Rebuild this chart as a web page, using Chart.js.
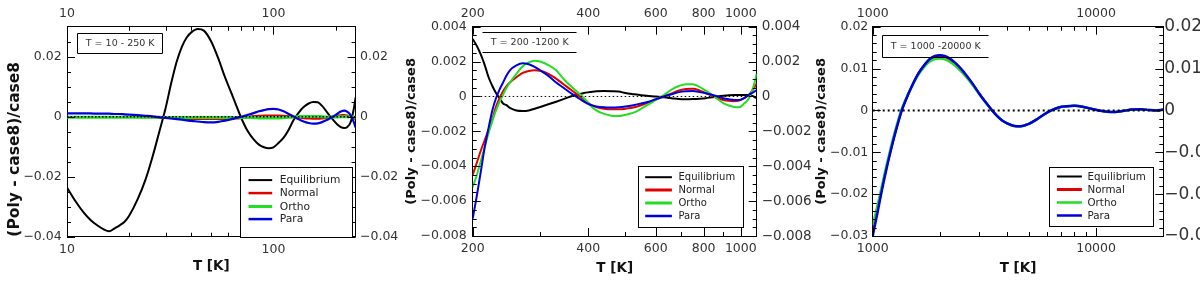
<!DOCTYPE html>
<html>
<head>
<meta charset="utf-8">
<script src="https://cdn.jsdelivr.net/npm/chart.js@4.4.1/dist/chart.umd.min.js"></script>
<style>
html,body{margin:0;padding:0;background:#fff;width:1200px;height:284px;overflow:hidden;position:relative;}
canvas{position:absolute;top:0;}
</style>
</head>
<body>
<canvas id="c1" width="400" height="284" style="left:0px;width:400px;height:284px"></canvas>
<canvas id="c2" width="420" height="284" style="left:400px;width:420px;height:284px"></canvas>
<canvas id="c3" width="420" height="284" style="left:800px;width:420px;height:284px"></canvas>
<script>
// ---------------- DATA ----------------
const seriesNames = ['Equilibrium', 'Normal', 'Ortho', 'Para'];

// Panel 1 : T = 10 - 250 K
const p1XLimits = [10, 250];
const p1YLimits = [-0.04, 0.03];
const p1XTicks = [10, 100];
const p1XMinorTicks = [20, 30, 40, 50, 60, 70, 80, 90, 200];
const p1YTicks = [-0.04, -0.02, 0, 0.02];
const p1YMinorTicks = [-0.035, -0.03, -0.025, -0.015, -0.01, -0.005, 0.005, 0.01, 0.015, 0.025];
const p1T = [10,11,12,13,14,15,16,17,18,19,20,22,24,26,28,30,32,34,36,38,40,43,46,50,54,58,62,66,70,75,80,85,90,95,100,106,112,118,125,132,140,148,156,164,172,180,188,196,204,212,220,228,236,244,250];
const p1Equilibrium = [-0.0236,-0.0282,-0.0318,-0.0344,-0.0362,-0.0375,-0.0382,-0.0372,-0.0362,-0.0350,-0.0330,
  -0.0275,-0.0210,-0.0132,-0.0050,0.0027,0.0113,0.0184,0.0233,0.0264,0.0281,
  0.0292,0.0287,0.0250,0.0195,0.0135,0.0085,0.0038,-0.0006,
  -0.0048,-0.0075,-0.0093,-0.0102,-0.0105,-0.0102,
  -0.0087,-0.0070,-0.0046,-0.0012,0.0012,0.0032,0.0044,0.0049,0.0048,0.0036,0.0019,0.0002,-0.0013,-0.0026,-0.0035,-0.0038,-0.0034,-0.0020,0.0020,0.0064];
const p1Normal = [-0.0001,-0.0001,-0.0001,-0.0001,-0.0001,-0.0001,-0.0001,-0.0001,-0.0001,-0.0001,-0.0001,
  -0.0001,-0.0002,-0.0002,-0.0003,-0.0004,-0.0005,-0.0006,-0.0007,-0.0007,-0.0008,
  -0.0008,-0.0008,-0.0008,-0.0008,-0.0008,-0.0007,-0.0006,-0.0004,
  -0.0001,0.0002,0.0003,0.0004,0.0004,0.0004,
  0.0004,0.0003,0.0002,0.0000,-0.0003,-0.0005,-0.0006,-0.0007,-0.0007,-0.0006,-0.0004,-0.0001,0.0002,0.0004,0.0005,0.0006,0.0004,0.0000,-0.0005,-0.0008];
const p1Ortho = [-0.0002,-0.0002,-0.0002,-0.0002,-0.0002,-0.0002,-0.0002,-0.0002,-0.0002,-0.0002,-0.0002,
  -0.0002,-0.0002,-0.0002,-0.0002,-0.0003,-0.0003,-0.0003,-0.0003,-0.0003,-0.0003,
  -0.0003,-0.0003,-0.0003,-0.0003,-0.0003,-0.0003,-0.0003,-0.0003,
  -0.0003,-0.0003,-0.0004,-0.0004,-0.0004,-0.0004,
  -0.0004,-0.0003,-0.0002,-0.0001,0.0000,0.0001,0.0001,0.0001,0.0001,0.0000,-0.0001,-0.0001,-0.0001,-0.0001,0.0000,0.0000,0.0000,0.0000,-0.0001,-0.0002];
const p1Para = [0.0011,0.0011,0.0011,0.0011,0.0010,0.0010,0.0010,0.0009,0.0009,0.0008,0.0007,
  0.0005,0.0003,0.0001,-0.0002,-0.0004,-0.0006,-0.0008,-0.0010,-0.0012,-0.0014,
  -0.0016,-0.0018,-0.0019,-0.0017,-0.0013,-0.0009,-0.0004,0.0000,
  0.0006,0.0012,0.0018,0.0022,0.0025,0.0026,
  0.0024,0.0018,0.0010,0.0001,-0.0008,-0.0016,-0.0021,-0.0023,-0.0022,-0.0018,-0.0012,-0.0005,0.0002,0.0010,0.0017,0.0020,0.0016,0.0006,-0.0015,-0.0036];

// Panel 2 : T = 200 - 1200 K
const p2XLimits = [200, 1100];
const p2YLimits = [-0.008, 0.004];
const p2XTicks = [200, 400, 600, 800, 1000];
const p2XMinorTicks = [300, 500, 700, 900];
const p2YTicks = [-0.008, -0.006, -0.004, -0.002, 0, 0.002, 0.004];
const p2YMinorTicks = [-0.0075,-0.007,-0.0065,-0.0055,-0.005,-0.0045,-0.0035,-0.003,-0.0025,-0.0015,-0.001,-0.0005,0.0005,0.001,0.0015,0.0025,0.003,0.0035];
const p2T = [200,205,210,215,220,225,230,235,240,245,250,260,270,280,290,300,315,330,345,360,375,390,405,420,440,460,480,500,525,550,575,600,630,660,690,720,750,780,810,840,870,900,930,960,990,1020,1050,1080,1100];
const p2Equilibrium = [0.0033,0.0029,0.0024,0.0018,0.0011,0.0006,0.0002,-0.0001,-0.0004,-0.0005,-0.00065,
  -0.0008,-0.00083,-0.0008,-0.0007,-0.0006,
  -0.00045,-0.0003,-0.00015,0.0,0.0001,0.0002,0.00025,0.0003,
  0.00031,0.0003,0.00028,0.0002,
  0.00013,0.00007,0.00003,0.0,
  -0.00005,-0.0001,-0.00015,-0.00016,-0.00015,-0.00013,-0.0001,-0.00005,0.0,0.00004,0.00007,0.00008,0.00008,0.00008,0.00008,0.0,
  -0.0001];
const p2Normal = [-0.0045,-0.0038,-0.0031,-0.0025,-0.0019,-0.0013,-0.0006,-0.0001,0.0003,0.0006,0.0008,
  0.0011,0.00135,0.00146,0.0015,0.00147,
  0.0013,0.00102,0.0007,0.0004,0.0001,-0.00018,-0.00045,-0.0006,
  -0.0007,-0.00074,-0.00074,-0.0007,
  -0.00063,-0.0005,-0.00033,-0.00018,
  0.0,0.00018,0.00034,0.00043,0.00044,0.00035,0.0002,0.00005,-0.0001,-0.0002,-0.00025,-0.00027,-0.00024,-0.0001,0.0001,0.00045,
  0.00075];
const p2Ortho = [-0.0052,-0.0045,-0.0037,-0.0029,-0.0021,-0.0014,-0.0008,-0.0003,0.0001,0.0005,0.0008,
  0.0013,0.00173,0.00195,0.00205,0.002,
  0.0018,0.0015,0.001,0.0006,0.00025,-0.0001,-0.0005,-0.0008,
  -0.001,-0.0011,-0.00112,-0.00105,
  -0.00093,-0.0007,-0.00045,-0.0002,
  0.00008,0.0004,0.0006,0.0007,0.0007,0.00055,0.00033,0.0001,-0.00015,-0.00038,-0.00052,-0.0006,-0.00062,-0.0004,-0.0001,0.0006,
  0.0013];
const p2Para = [-0.0070,-0.0057,-0.0043,-0.0029,-0.0018,-0.0008,-0.0001,0.0004,0.0008,0.0012,0.0015,
  0.00178,0.0019,0.00185,0.0017,0.0015,
  0.00118,0.0008,0.0005,0.0002,-0.00005,-0.0003,-0.00048,-0.00057,
  -0.00062,-0.00063,-0.00062,-0.00058,
  -0.0005,-0.0004,-0.0003,-0.00016,
  0.0,0.00013,0.00025,0.0003,0.00031,0.00026,0.00018,0.0001,0.0,-0.0001,-0.00016,-0.0002,-0.0002,-0.0001,0.0001,0.00025,
  0.00037];

// Panel 3 : T = 1000 - 20000 K
const p3XLimits = [1000, 20000];
const p3YLimits = [-0.03, 0.02];
const p3XTicks = [1000, 10000];
const p3XMinorTicks = [2000, 3000, 4000, 5000, 6000, 7000, 8000, 9000];
const p3YTicks = [-0.03, -0.02, -0.01, 0, 0.01, 0.02];
const p3YMinorTicks = [-0.028,-0.026,-0.024,-0.022,-0.018,-0.016,-0.014,-0.012,-0.008,-0.006,-0.004,-0.002,0.002,0.004,0.006,0.008,0.012,0.014,0.016,0.018];
const p3T = [1000,1050,1100,1150,1200,1250,1300,1350,1400,1500,1600,1700,1800,1900,2000,2100,2200,2350,2500,2650,2800,3000,3200,3400,3600,3800,4000,4300,4600,5000,5400,5800,6300,6800,7400,8000,8700,9500,10300,11200,12200,13300,14500,15800,17200,18600,20000];
const p3Equilibrium = [-0.0292,-0.0240,-0.0186,-0.0139,-0.0098,-0.0061,-0.0028,0.0001,0.0023,
  0.0059,0.0088,0.0108,0.0122,0.0129,0.0131,0.0129,0.0124,
  0.0112,0.0097,0.0080,0.0063,
  0.0040,0.0020,0.0002,-0.0013,-0.0024,-0.0031,
  -0.0037,-0.0038,
  -0.0032,-0.0022,-0.0011,
  0.0000,0.0007,0.0010,0.0011,0.0009,0.0004,
  0.0000,-0.0003,-0.0004,-0.0001,0.0002,0.0003,0.0001,0.0000,0.0002];
const p3Normal = [-0.0288,-0.0237,-0.0184,-0.0138,-0.0097,-0.0060,-0.0027,0.0001,0.0023,
  0.0058,0.0087,0.0106,0.0120,0.0127,0.0129,0.0127,0.0122,
  0.0110,0.0096,0.0079,0.0062,
  0.0040,0.0020,0.0002,-0.0013,-0.0024,-0.0031,
  -0.0037,-0.0038,
  -0.0032,-0.0022,-0.0011,
  0.0000,0.0007,0.0010,0.0011,0.0009,0.0004,
  0.0000,-0.0003,-0.0004,-0.0001,0.0002,0.0003,0.0001,0.0000,0.0002];
const p3Ortho = [-0.0275,-0.0228,-0.0180,-0.0134,-0.0093,-0.0056,-0.0024,0.0004,0.0025,
  0.0058,0.0085,0.0104,0.0117,0.0123,0.0124,0.0122,0.0117,
  0.0106,0.0092,0.0077,0.0061,
  0.0039,0.0019,0.0002,-0.0013,-0.0024,-0.0031,
  -0.0037,-0.0038,
  -0.0032,-0.0022,-0.0011,
  0.0000,0.0007,0.0010,0.0011,0.0009,0.0004,
  0.0000,-0.0003,-0.0004,-0.0001,0.0002,0.0003,0.0001,0.0000,0.0002];
const p3Para = [-0.0300,-0.0245,-0.0190,-0.0142,-0.0100,-0.0062,-0.0029,0.0000,0.0022,
  0.0059,0.0088,0.0108,0.0123,0.0130,0.0132,0.0130,0.0125,
  0.0113,0.0098,0.0081,0.0064,
  0.0040,0.0020,0.0002,-0.0013,-0.0024,-0.0031,
  -0.0037,-0.0038,
  -0.0032,-0.0022,-0.0011,
  0.0000,0.0007,0.0010,0.0011,0.0009,0.0004,
  0.0000,-0.0003,-0.0004,-0.0001,0.0002,0.0003,0.0001,0.0000,0.0002];

// ---------------- STYLE ----------------
const seriesColors = ['#000000', '#e00000', '#22dd22', '#0000dd'];
const FONT = 'DejaVu Sans';
const TICK_COLOR = '#333333';

function fmt(v) { return v === 0 ? '0' : String(v).replace('-', '\u2212'); }

function makeDecor(st) {
  return {
    id: 'decor',
    afterDraw(chart) {
      const ctx = chart.ctx, a = chart.chartArea;
      const xs = chart.scales.x, ys = chart.scales.y;
      ctx.save();
      ctx.strokeStyle = '#000';
      ctx.lineWidth = 1;
      const line = (x1, y1, x2, y2) => { ctx.beginPath(); ctx.moveTo(x1, y1); ctx.lineTo(x2, y2); ctx.stroke(); };
      const xt = (vals, len) => vals.forEach(v => {
        const p = Math.round(xs.getPixelForValue(v)) + 0.5;
        line(p, a.bottom, p, a.bottom - len);
        line(p, a.top, p, a.top + len);
      });
      const yt = (vals, len) => vals.forEach(v => {
        const p = Math.round(ys.getPixelForValue(v)) + 0.5;
        line(a.left, p, a.left + len, p);
        line(a.right, p, a.right - len, p);
      });
      xt(st.xMajor, 8); xt(st.xMinor, 4);
      yt(st.yMajor, 8); yt(st.yMinor, 4);

      // annotation box
      const n = st.note;
      const nx0 = Math.round(a.left + n.dx0) + 0.5, nx1 = Math.round(a.left + n.dx1) + 0.5;
      const ny0 = Math.round(a.top + n.dy0) + 0.5, ny1 = Math.round(a.top + n.dy1) + 0.5;
      if (n.sides.includes('t')) line(nx0, ny0, nx1, ny0);
      if (n.sides.includes('b')) line(nx0, ny1, nx1, ny1);
      if (n.sides.includes('l')) line(nx0, ny0, nx0, ny1);
      if (n.sides.includes('r')) line(nx1, ny0, nx1, ny1);
      ctx.fillStyle = '#333';
      ctx.font = n.size + 'px "' + FONT + '"';
      ctx.textBaseline = 'middle';
      ctx.textAlign = 'left';
      ctx.fillText(n.text, nx0 + n.tx, (ny0 + ny1) / 2 + 0.5);

      // legend box
      const L = st.legend;
      const lx0 = Math.round(a.right + L.dx0) + 0.5, lx1 = Math.round(a.right + L.dx1) + 0.5;
      const ly0 = Math.round(a.bottom + L.dy0) + 0.5, ly1 = Math.round(a.bottom + L.dy1) + 0.5;
      ctx.fillStyle = '#fff';
      ctx.fillRect(lx0, ly0, lx1 - lx0, ly1 - ly0);
      ctx.strokeStyle = '#000';
      ctx.lineWidth = 1;
      ctx.strokeRect(lx0, ly0, lx1 - lx0, ly1 - ly0);
      ctx.font = L.size + 'px "' + FONT + '"';
      seriesNames.forEach((name, i) => {
        const y = ly0 + L.rows[i];
        ctx.strokeStyle = seriesColors[i];
        ctx.lineWidth = L.widths[i];
        line(lx0 + L.s0, y, lx0 + L.s1, y);
        ctx.fillStyle = '#222';
        ctx.fillText(name, lx0 + L.tx, y + 0.5);
      });
      ctx.restore();
    }
  };
}

function buildChart(id, P) {
  const datasets = [];
  datasets.push({
    label: 'zero', data: [{x: P.xLim[0], y: 0}, {x: P.xLim[1], y: 0}],
    borderColor: '#000', borderWidth: P.zeroW, borderDash: P.zeroDash, pointRadius: 0, order: 0
  });
  P.series.forEach((vals, i) => datasets.push({
    label: seriesNames[i],
    data: P.T.map((t, j) => ({x: t, y: vals[j]})),
    borderColor: seriesColors[i], borderWidth: P.widths[i], pointRadius: 0,
    cubicInterpolationMode: 'monotone', fill: false, order: 4 - i
  }));
  const tickFont = {family: FONT, size: 12.5};
  const xBase = {
    type: 'logarithmic', min: P.xLim[0], max: P.xLim[1], bounds: 'data',
    grid: {display: false, drawTicks: false},
    border: {display: true, color: '#000', width: 1},
    afterBuildTicks: s => { s.ticks = P.xMajor.map(v => ({value: v})); }
  };
  const yBase = {
    type: 'linear', min: P.yLim[0], max: P.yLim[1], bounds: 'data',
    grid: {display: false, drawTicks: false},
    border: {display: true, color: '#000', width: 1},
    afterBuildTicks: s => { s.ticks = P.yMajor.map(v => ({value: v})); }
  };
  new Chart(document.getElementById(id), {
    type: 'line',
    data: {datasets},
    options: {
      responsive: false, animation: false, devicePixelRatio: 1,
      layout: {padding: 0},
      parsing: true,
      plugins: {legend: {display: false}, tooltip: {enabled: false}},
      scales: {
        x: Object.assign({}, xBase, {
          position: 'bottom',
          afterFit: s => { s.height = P.bottomH; },
          ticks: {autoSkip: false, maxRotation: 0, minRotation: 0, font: tickFont, color: TICK_COLOR, padding: P.xBotPad, callback: v => String(v)},
          title: {display: true, text: 'T [K]', color: '#111', font: {family: FONT, size: 13.5, weight: 'bold'}, padding: {top: 0, bottom: P.xTitlePad}}
        }),
        x2: Object.assign({}, xBase, {
          position: 'top',
          afterFit: s => { s.height = P.topH; },
          ticks: {autoSkip: false, maxRotation: 0, minRotation: 0, font: tickFont, color: TICK_COLOR, padding: P.xTopPad, callback: v => String(v)}
        }),
        y: Object.assign({}, yBase, {
          position: 'left',
          afterFit: s => { s.width = P.leftW; },
          ticks: {autoSkip: false, font: tickFont, color: TICK_COLOR, padding: P.yLeftPad, callback: v => fmt(v)},
          title: {display: true, text: '(Poly - case8)/case8', align: P.yTitleAlign, color: '#111', font: {family: FONT, size: P.yTitleSize, weight: 'bold'}, padding: {top: P.yTitlePad, bottom: 0}}
        }),
        y2: Object.assign({}, yBase, {
          position: 'right',
          afterFit: s => { s.width = P.rightW; },
          ticks: {autoSkip: false, font: {family: FONT, size: P.rightSize}, color: TICK_COLOR, padding: P.yRightPad, callback: v => fmt(v)}
        })
      }
    },
    plugins: [makeDecor({
      xMajor: P.xMajor, xMinor: P.xMinor, yMajor: P.yMajor, yMinor: P.yMinor,
      note: P.note, legend: P.legend
    })]
  });
}

buildChart('c1', {
  T: p1T, series: [p1Equilibrium, p1Normal, p1Ortho, p1Para],
  xLim: p1XLimits, yLim: p1YLimits, xMajor: p1XTicks, xMinor: p1XMinorTicks, yMajor: p1YTicks, yMinor: p1YMinorTicks,
  widths: [2, 2, 3, 2.2], zeroW: 1.5, zeroDash: [1.5, 2],
  leftW: 67, rightW: 44.4, topH: 26.7, bottomH: 47.3,
  xBotPad: 5.8, xTopPad: 5.2, xTitlePad: 9.2, yLeftPad: 5.3, yRightPad: 4.4, rightSize: 12.5,
  yTitleAlign: 'start', yTitleSize: 15.5, yTitlePad: 5.6,
  note: {text: 'T = 10 - 250 K', dx0: 9.7, dx1: 94.7, dy0: 6.6, dy1: 26.6, tx: 8.3, size: 9.5, sides: 'tblr'},
  legend: {dx0: -115.6, dx1: -3.9, dy0: -70, dy1: 0, rows: [12.6, 25.6, 39, 51.6], s0: 8, s1: 31.7, tx: 39.3, size: 10.7, widths: [2, 2.5, 3, 2.5]}
});

buildChart('c2', {
  T: p2T, series: [p2Equilibrium, p2Normal, p2Ortho, p2Para],
  xLim: p2XLimits, yLim: p2YLimits, xMajor: p2XTicks, xMinor: p2XMinorTicks, yMajor: p2YTicks, yMinor: p2YMinorTicks,
  widths: [2, 2, 2, 2], zeroW: 1, zeroDash: [1.5, 2.5],
  leftW: 72.7, rightW: 63.3, topH: 26.7, bottomH: 48,
  xBotPad: 4.8, xTopPad: 5.2, xTitlePad: 7.6, yLeftPad: 6, yRightPad: 5, rightSize: 13.5,
  yTitleAlign: 'center', yTitleSize: 13, yTitlePad: 3.9,
  note: {text: 'T = 200 -1200 K', dx0: 9, dx1: 103.3, dy0: 5.6, dy1: 25.6, tx: 8.3, size: 9.5, sides: 'tb'},
  legend: {dx0: -118.4, dx1: -13.4, dy0: -70, dy1: -9, rows: [10.7, 23.5, 36.5, 49.5], s0: 6.7, s1: 33.4, tx: 40, size: 10, widths: [2, 3, 3, 2.5]}
});

buildChart('c3', {
  T: p3T, series: [p3Equilibrium, p3Normal, p3Ortho, p3Para],
  xLim: p3XLimits, yLim: p3YLimits, xMajor: p3XTicks, xMinor: p3XMinorTicks, yMajor: p3YTicks, yMinor: p3YMinorTicks,
  widths: [2, 2, 2.5, 2.5], zeroW: 2, zeroDash: [2, 3],
  leftW: 72.7, rightW: 56.7, topH: 26.7, bottomH: 48,
  xBotPad: 4.8, xTopPad: 5.2, xTitlePad: 7.6, yLeftPad: 4.4, yRightPad: 1, rightSize: 17,
  yTitleAlign: 'center', yTitleSize: 13, yTitlePad: 13.9,
  note: {text: 'T = 1000 -20000 K', dx0: 9, dx1: 115.6, dy0: 8.3, dy1: 30.6, tx: 8.3, size: 9.5, sides: 'tbl'},
  legend: {dx0: -114, dx1: -10.3, dy0: -69.3, dy1: -10.5, rows: [9, 22, 35, 48], s0: 7.4, s1: 32.4, tx: 38, size: 10.3, widths: [2, 3, 2.5, 2.5]}
});
</script>
</body>
</html>
